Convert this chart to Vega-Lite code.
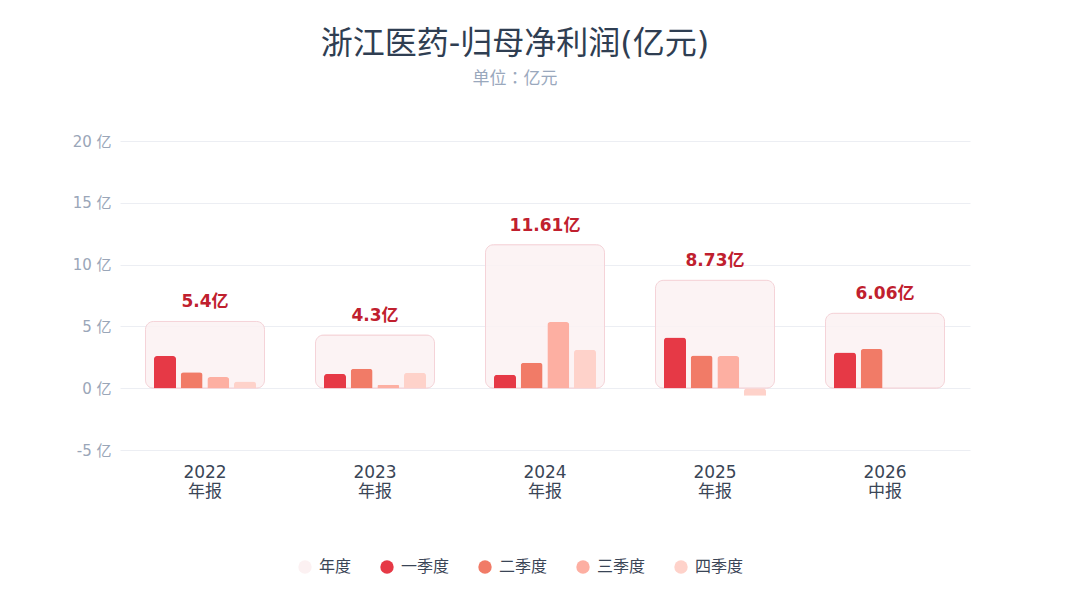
{
  "$schema": "https://vega.github.io/schema/vega-lite/v6.json",
  "width": 850,
  "height": 309,
  "autosize": "none",
  "padding": {"left": 120, "top": 141, "right": 110, "bottom": 150},
  "background": "#ffffff",
  "config": {
    "font": "DejaVu Sans, Noto Sans CJK SC",
    "view": {"stroke": null},
    "axis": {"labelFont": "DejaVu Sans, Noto Sans CJK SC"}
  },
  "title": {
    "text": "浙江医药-归母净利润(亿元)",
    "subtitle": "单位：亿元",
    "fontSize": 32,
    "fontWeight": "normal",
    "color": "#2f3e52",
    "subtitleFont": "Noto Sans CJK TC",
    "subtitleFontSize": 17,
    "subtitleColor": "#9aa8bd",
    "subtitlePadding": 10,
    "anchor": "middle",
    "dx": -30,
    "offset": 46
  },
  "data": {
    "values": [
      {"period": "2022年报", "series": "年度", "value": 5.4},
      {"period": "2023年报", "series": "年度", "value": 4.3},
      {"period": "2024年报", "series": "年度", "value": 11.61},
      {"period": "2025年报", "series": "年度", "value": 8.73},
      {"period": "2026中报", "series": "年度", "value": 6.06},
      {"period": "2022年报", "series": "一季度", "value": 2.6},
      {"period": "2022年报", "series": "二季度", "value": 1.3},
      {"period": "2022年报", "series": "三季度", "value": 0.9},
      {"period": "2022年报", "series": "四季度", "value": 0.55},
      {"period": "2023年报", "series": "一季度", "value": 1.15},
      {"period": "2023年报", "series": "二季度", "value": 1.58},
      {"period": "2023年报", "series": "三季度", "value": 0.27},
      {"period": "2023年报", "series": "四季度", "value": 1.25},
      {"period": "2024年报", "series": "一季度", "value": 1.08},
      {"period": "2024年报", "series": "二季度", "value": 2.06},
      {"period": "2024年报", "series": "三季度", "value": 5.35},
      {"period": "2024年报", "series": "四季度", "value": 3.12},
      {"period": "2025年报", "series": "一季度", "value": 4.1},
      {"period": "2025年报", "series": "二季度", "value": 2.65},
      {"period": "2025年报", "series": "三季度", "value": 2.6},
      {"period": "2025年报", "series": "四季度", "value": -0.62},
      {"period": "2026中报", "series": "一季度", "value": 2.88},
      {"period": "2026中报", "series": "二季度", "value": 3.18}
    ]
  },
  "encoding": {
    "x": {
      "field": "period",
      "type": "nominal",
      "sort": null,
      "scale": {"paddingInner": 0, "paddingOuter": 0},
      "axis": {
        "title": null,
        "labelAngle": 0,
        "domain": false,
        "ticks": false,
        "labelPadding": 14,
        "labelFontSize": 17,
        "labelColor": "#3a4556",
        "labelLineHeight": 19,
        "labelExpr": "[slice(datum.label, 0, 4), slice(datum.label, 4)]"
      }
    },
    "y": {
      "field": "value",
      "type": "quantitative",
      "scale": {"domain": [-5, 20], "nice": false, "zero": false},
      "axis": {
        "title": null,
        "values": [-5, 0, 5, 10, 15, 20],
        "domain": false,
        "ticks": false,
        "labelPadding": 9,
        "labelFontSize": 15,
        "labelColor": "#9aa6b8",
        "labelExpr": "datum.value + ' 亿'",
        "gridColor": "#eceef3",
        "gridWidth": 1
      }
    }
  },
  "layer": [
    {
      "transform": [{"filter": "datum.series === '年度'"}],
      "mark": {
        "type": "bar",
        "width": {"band": 0.7},
        "cornerRadius": 8,
        "fillOpacity": 0.85,
        "stroke": "#f5d3d8",
        "strokeWidth": 1
      },
      "encoding": {
        "color": {
          "field": "series",
          "type": "nominal",
          "scale": {
            "domain": ["年度", "一季度", "二季度", "三季度", "四季度"],
            "range": ["#fcf1f2", "#e63946", "#f17b67", "#fdafa2", "#fed2ca"]
          },
          "legend": {
            "title": null,
            "orient": "none",
            "direction": "horizontal",
            "legendX": 177,
            "legendY": 418,
            "symbolType": "circle",
            "symbolSize": 180,
            "symbolStrokeWidth": 0,
            "labelFontSize": 16,
            "labelColor": "#3a4556",
            "labelOffset": 6,
            "columnPadding": 27
          }
        }
      }
    },
    {
      "transform": [{"filter": "datum.series !== '年度'"}],
      "mark": {"type": "bar", "cornerRadiusEnd": 3},
      "encoding": {
        "xOffset": {
          "field": "series",
          "type": "nominal",
          "sort": ["一季度", "二季度", "三季度", "四季度"],
          "scale": {"range": [34, 136], "paddingInner": 0.175, "paddingOuter": 0}
        },
        "color": {"field": "series", "type": "nominal"}
      }
    },
    {
      "transform": [
        {"filter": "datum.series === '年度'"},
        {"calculate": "datum.value + '亿'", "as": "label"}
      ],
      "mark": {
        "type": "text",
        "baseline": "bottom",
        "dy": -10,
        "fontSize": 17,
        "fontWeight": "bold",
        "color": "#c0202e"
      },
      "encoding": {
        "text": {"field": "label"}
      }
    }
  ]
}
